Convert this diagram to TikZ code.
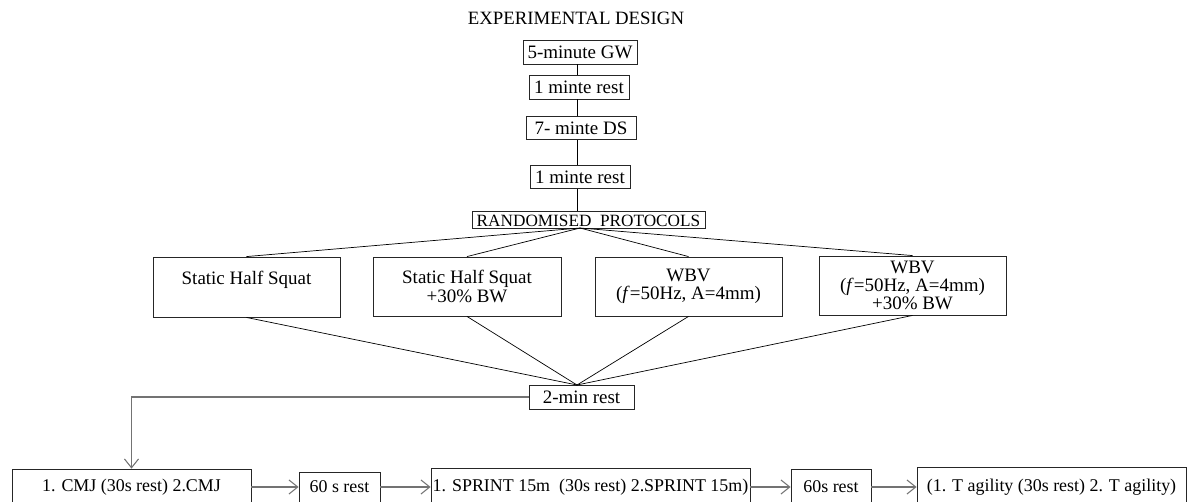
\documentclass[tikz,border=0pt]{standalone}
\usepackage{fontspec}
\setmainfont{Liberation Serif}
\usetikzlibrary{arrows.meta,calc}
\begin{document}
\begin{tikzpicture}[x=0.02cm,y=-0.02cm,
  bx/.style={draw=black!85,line width=0.5pt,inner sep=0pt,align=center,font=\fontsize{10.2}{10}\selectfont},
  big/.style={font=\fontsize{10.8}{10.4}\selectfont},
  thin/.style={draw=black,line width=0.4pt},
  arr/.style={draw=black!55,line width=0.8pt,-{Straight Barb[length=5pt,width=8pt,line width=0.6pt]}}]
\useasboundingbox (0,0) rectangle (1188,501);
\node (title) at (576,18) {\fontsize{10.7}{11}\selectfont EXPERIMENTAL DESIGN};
\node[bx,big,minimum width=2.28cm,minimum height=0.48cm] (gw) at (580,52) {5-minute GW};
\node[bx,big,minimum width=2.0cm,minimum height=0.48cm] (r1) at (579,87) {1 minte rest};
\node[bx,big,minimum width=2.2cm,minimum height=0.46cm] (ds) at (581,128) {7- minte DS};
\node[bx,big,minimum width=2.0cm,minimum height=0.46cm] (r2) at (580,177) {1 minte rest};
\node[bx,minimum width=4.66cm,minimum height=0.34cm,text height=8.3pt,text depth=0pt,font=\fontsize{9.8}{10}\selectfont] (rp) at (588.5,219.5) {RANDOMISED\ \ PROTOCOLS};
\node[bx,big,minimum width=3.74cm,minimum height=1.2cm] (b1) at (246.5,287) {Static Half Squat\\\mbox{}};
\node[bx,big,minimum width=3.76cm,minimum height=1.18cm] (b2) at (467,286.5) {Static Half Squat\\+30\% BW};
\node[bx,big,minimum width=3.74cm,minimum height=1.18cm] (b3) at (688.5,286.5) {WBV\\(\textit{f}=50Hz, A=4mm)};
\node[bx,big,minimum width=3.74cm,minimum height=1.18cm] (b4) at (912.5,285.5) {WBV\\(\textit{f}=50Hz, A=4mm)\\+30\% BW};
\node[bx,big,minimum width=2.1cm,minimum height=0.48cm] (two) at (581.5,397) {2-min rest};
\node[bx,minimum width=4.78cm,minimum height=0.72cm] (cmj) at (131.5,487) {1. CMJ (30s rest) 2.CMJ};
\node[bx,minimum width=1.62cm,minimum height=0.6cm] (sa) at (339.5,487) {60 s rest};
\node[bx,minimum width=6.38cm,minimum height=0.76cm] (sp) at (590.5,487) {1. SPRINT 15m\ \ (30s rest) 2.SPRINT 15m)};
\node[bx,minimum width=1.6cm,minimum height=0.72cm] (sb) at (831,487) {60s rest};
\node[bx,minimum width=5.38cm,minimum height=0.8cm] (ta) at (1051.5,487) {(1. T agility (30s rest) 2. T agility)};
\coordinate (spine) at (577,0);
\coordinate (rpb) at (580,228);
\coordinate (cv) at (577,385);
\draw[thin] (gw.south -| spine) -- (r1.north -| spine);
\draw[thin] (r1.south -| spine) -- (ds.north -| spine);
\draw[thin] (ds.south -| spine) -- (r2.north -| spine);
\draw[thin] (r2.south -| spine) -- (rp.north -| spine);
\draw[thin] (rpb) -- (b1.north);
\draw[thin] (rpb) -- (b2.north);
\draw[thin] (rpb) -- (b3.north);
\draw[thin] (rpb) -- (b4.north);
\draw[thin] (b1.south) -- (cv);
\draw[thin] (b2.south) -- (cv);
\draw[thin] (b3.south) -- (cv);
\draw[thin] (b4.south) -- (cv);
\draw[arr] (two.west) -| (cmj.north);
\draw[arr] (cmj.east) -- (sa.west);
\draw[arr] (sa.east) -- (sp.west);
\draw[arr] (sp.east) -- (sb.west);
\draw[arr] (sb.east) -- (ta.west);
\end{tikzpicture}
\end{document}
